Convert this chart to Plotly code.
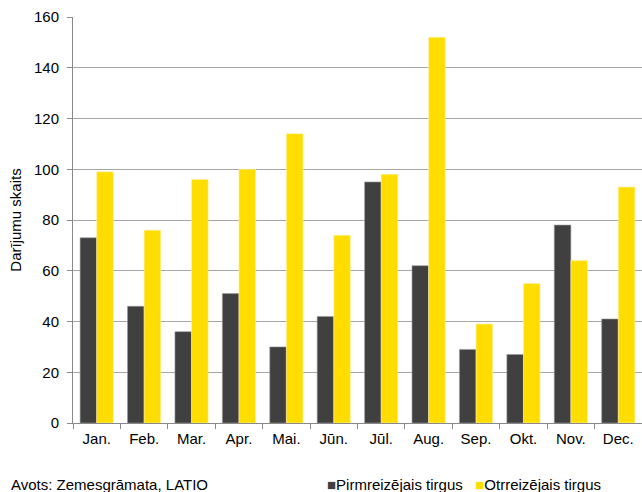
import plotly.graph_objects as go

months = ["Jan.", "Feb.", "Mar.", "Apr.", "Mai.", "Jūn.", "Jūl.", "Aug.", "Sep.", "Okt.", "Nov.", "Dec."]
pirmreizejais = [73, 46, 36, 51, 30, 42, 95, 62, 29, 27, 78, 41]
otrreizejais = [99, 76, 96, 100, 114, 74, 98, 152, 39, 55, 64, 93]
y_ticks = [0, 20, 40, 60, 80, 100, 120, 140, 160]

series_names = ["Pirmreizējais tirgus", "Otrreizējais tirgus"]
series_colors = ["#404040", "#FFDD00"]
source_text = "Avots: Zemesgrāmata, LATIO"

font_family = "Liberation Sans, Arial, sans-serif"
FS = 15

fig = go.Figure()
for name, vals, col, edge in zip(series_names, [pirmreizejais, otrreizejais],
                                 series_colors, ["#9a9a9a", "#fff2a8"]):
    fig.add_trace(go.Bar(
        x=months, y=vals, name=name,
        marker=dict(color=col, line=dict(color=edge, width=0.6)),
    ))

# Compact legend under the plot: coloured square glyph + series name
legend_text = "   ".join(
    f"<span style='color:{c}'>■</span>{n}" for n, c in zip(series_names, series_colors)
)

fig.update_layout(
    width=642, height=492,
    margin=dict(l=73, r=0, t=17, b=69, autoexpand=False),
    paper_bgcolor="white", plot_bgcolor="white",
    barmode="group", bargap=0.3, bargroupgap=0,
    font=dict(family=font_family, size=FS, color="#000000"),
    showlegend=False,
    xaxis=dict(
        type="category", showline=True, linecolor="#898989", linewidth=1,
        ticks="outside", tickson="boundaries", ticklen=5, tickcolor="#898989",
        showgrid=False, tickfont=dict(size=FS), ticklabelstandoff=2,
    ),
    yaxis=dict(
        range=[0, 160], tickvals=y_ticks, showline=True, linecolor="#898989", linewidth=1,
        ticks="outside", ticklen=5, tickcolor="#898989",
        showgrid=True, gridcolor="#a6a6a6", gridwidth=1,
        title=dict(text="Darījumu skaits", font=dict(size=FS), standoff=8),
        tickfont=dict(size=FS), zeroline=False, ticklabelstandoff=5,
    ),
    annotations=[
        dict(text=source_text, xref="paper", yref="paper",
             x=-0.1125, y=-0.126, xanchor="left", yanchor="top", showarrow=False,
             font=dict(size=FS)),
        dict(text=legend_text, xref="paper", yref="paper",
             x=0.443, y=-0.126, xanchor="left", yanchor="top", showarrow=False,
             font=dict(size=FS)),
    ],
)

fig.write_html("out.html")
